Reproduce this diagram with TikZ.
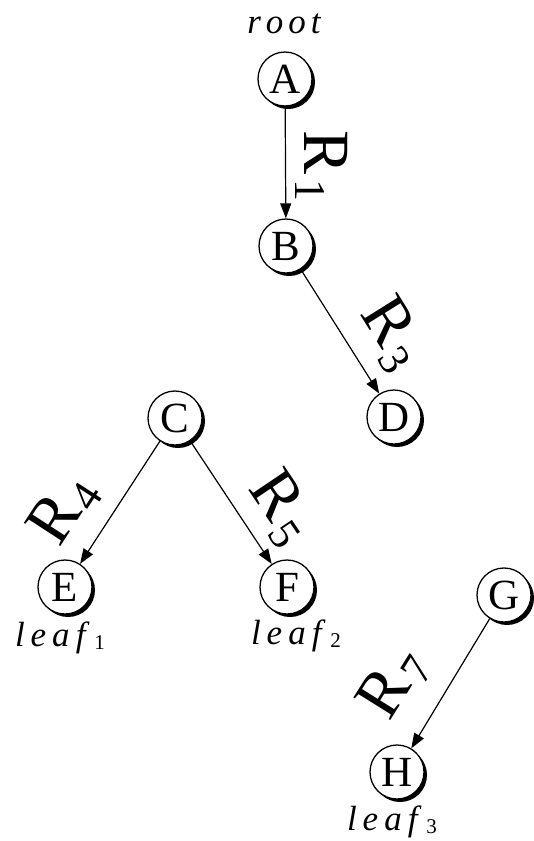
\documentclass[tikz,border=0pt]{standalone}
\usepackage{fontspec}
\setmainfont{Liberation Serif}
\usetikzlibrary{arrows.meta,shadows}
\tikzset{
  tnode/.style={circle, draw, line width=1.3pt, fill=white, minimum size=54pt, inner sep=0pt,
    font=\fontsize{43}{43}\selectfont,
    drop shadow={shadow xshift=3pt, shadow yshift=-3pt, fill=black, opacity=1}},
  edge/.style={line width=1.2pt, -{Triangle[length=15pt,width=11pt]}},
  rlab/.style={font=\fontsize{66}{66}\selectfont, inner sep=0pt},
  tlab/.style={font=\fontsize{35}{35}\selectfont\itshape, inner sep=0pt, anchor=base}
}
\newcommand{\rsub}[1]{R\hspace{4pt}\raisebox{-9pt}{\fontsize{44}{44}\selectfont #1}}
\newcommand{\leafsub}[1]{l\hspace{6pt}e\hspace{6pt}a\hspace{6pt}f\hspace{9pt}\raisebox{-0.1em}{\upshape\fontsize{21}{21}\selectfont #1}}
\begin{document}
\begin{tikzpicture}[x=1pt,y=-1pt]
\useasboundingbox (0,0) rectangle (534,841);
\node[tnode] (A) at (285,79) {A};
\node[tnode] (B) at (286,246) {B};
\node[tnode] (D) at (394,417) {D};
\node[tnode] (C) at (175,418) {C};
\node[tnode] (E) at (65,587) {E};
\node[tnode] (F) at (287,587) {F};
\node[tnode] (G) at (504,595) {G};
\node[tnode] (H) at (397,772) {H};
\draw[edge] (A) -- (B);
\draw[edge] (B) -- (D);
\draw[edge] (C) -- (E);
\draw[edge] (C) -- (F);
\draw[edge] (G) -- (H);
\node[tlab] (root) at (284,33) {r\hspace{5pt}o\hspace{5pt}o\hspace{5pt}t};
\node[tlab] (l1) at (60,646) {\leafsub{1}};
\node[tlab] (l2) at (296,644) {\leafsub{2}};
\node[tlab] (l3) at (392,830) {\leafsub{3}};
\node[rlab, rotate=-90] (r1) at (322,166) {\rsub{1}};
\node[rlab, rotate=-58] (r3) at (392,334) {\rsub{3}};
\node[rlab, rotate=57] (r4) at (64,510) {\rsub{4}};
\node[rlab, rotate=-56] (r5) at (281,508) {\rsub{5}};
\node[rlab, rotate=58] (r7) at (394,684) {\rsub{7}};
\end{tikzpicture}
\end{document}
